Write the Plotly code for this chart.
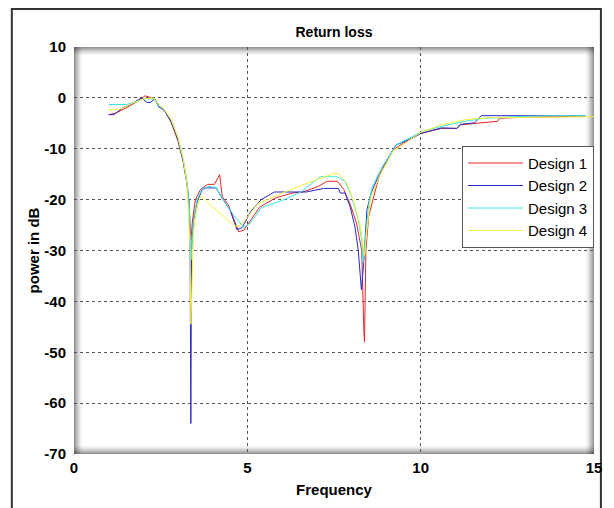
import plotly.graph_objects as go

# ---------------- data ----------------
x_d1 = [1.0, 1.2, 1.5, 1.8, 2.05, 2.2, 2.35, 2.45, 2.6, 2.8, 3.0, 3.15, 3.25, 3.32, 3.37, 3.42,
        3.5, 3.65, 3.85, 4.05, 4.2, 4.28, 4.45, 4.6, 4.75, 4.9, 5.1, 5.35, 5.8, 6.3, 6.6, 7.05,
        7.3, 7.6, 7.78, 7.95, 8.15, 8.3, 8.36, 8.38, 8.42, 8.5, 8.8, 9.2, 9.6, 10.0, 10.6,
        11.05, 11.15, 11.7, 12.22, 12.27, 12.65, 13.0, 14.75]
y_d1 = [-3.3, -3.0, -2.0, -0.8, 0.4, 0.1, -0.4, -1.7, -2.4, -4.8, -8.5, -12.5, -16.5, -20.5, -28.0, -24.0,
        -20.0, -18.0, -17.0, -17.0, -15.1, -19.5, -21.0, -23.5, -26.3, -26.0, -24.0, -21.5, -19.7, -18.7, -18.5, -17.4,
        -16.4, -16.4, -18.0, -20.6, -24.6, -30.0, -45.5, -48.0, -30.0, -23.3, -15.4, -10.2, -8.5, -7.0, -6.0,
        -6.0, -5.3, -4.9, -4.6, -4.0, -3.9, -3.8, -3.6]

x_d2 = [1.0, 1.15, 1.4, 1.7, 1.95, 2.1, 2.2, 2.33, 2.45, 2.6, 2.8, 3.0, 3.15, 3.25, 3.32, 3.35,
        3.37, 3.39, 3.45, 3.55, 3.7, 3.8, 4.1, 4.3, 4.5, 4.7, 4.85, 5.1, 5.4, 5.78, 6.7, 7.2,
        7.63, 7.68, 7.82, 7.96, 8.1, 8.2, 8.29, 8.35, 8.45, 8.57, 8.86, 9.29, 9.38, 9.67, 10.0,
        10.6, 11.04, 11.14, 11.56, 11.75, 14.75]
y_d2 = [-3.3, -3.3, -2.0, -1.0, 0.0, -0.9, -0.9, -0.2, -1.8, -2.4, -4.6, -8.2, -12.5, -16.5, -20.6, -31.0,
        -64.0, -30.0, -24.0, -20.5, -18.0, -17.7, -17.7, -20.0, -22.0, -25.9, -25.5, -22.3, -20.0, -18.5, -18.5, -17.8,
        -17.8, -18.7, -18.7, -21.3, -25.2, -30.0, -37.7, -33.0, -22.0, -18.7, -14.1, -9.2, -9.0, -8.2, -7.0,
        -5.9, -6.0, -5.2, -4.9, -3.5, -3.5]

x_d3 = [1.0, 1.5, 1.8, 2.0, 2.3, 2.45, 2.6, 2.8, 3.0, 3.15, 3.25, 3.32, 3.38, 3.45, 3.55, 3.7,
        3.9, 4.1, 4.3, 4.6, 4.9, 5.1, 5.4, 6.07, 6.54, 7.11, 7.58, 7.82, 8.0, 8.2, 8.3, 8.34,
        8.4, 8.5, 8.6, 8.9, 9.3, 10.05, 10.6, 11.28, 11.75, 12.7, 13.8, 14.75]
y_d3 = [-1.3, -1.3, -0.8, -0.2, -0.2, -1.6, -2.3, -4.3, -7.8, -12.0, -16.0, -20.5, -31.8, -24.0, -20.0, -17.8,
        -17.4, -17.6, -20.0, -23.0, -25.5, -24.5, -21.6, -20.0, -18.5, -15.5, -15.5, -16.4, -19.3, -23.9, -28.0, -32.4,
        -28.0, -21.0, -17.5, -13.5, -9.2, -6.6, -5.6, -4.6, -4.1, -3.7, -3.5, -3.5]

x_d4 = [1.0, 1.3, 1.7, 2.0, 2.3, 2.45, 2.6, 2.8, 3.0, 3.15, 3.25, 3.3, 3.35, 3.37, 3.45, 3.55,
        3.65, 4.0, 4.35, 4.64, 4.79, 5.0, 5.3, 6.26, 7.02, 7.49, 7.63, 7.87, 8.06, 8.24, 8.32, 8.38,
        8.45, 8.55, 8.8, 9.2, 10.0, 10.6, 11.28, 12.0, 15.0]
y_d4 = [-2.3, -2.3, -1.0, -0.2, 0.0, -1.3, -2.2, -4.2, -7.8, -12.0, -16.5, -22.0, -30.0, -44.5, -26.0, -21.5,
        -19.3, -21.5, -23.5, -25.2, -25.1, -23.5, -20.8, -18.0, -16.0, -14.9, -14.9, -16.7, -20.3, -24.6, -28.0, -31.1,
        -26.0, -20.0, -15.5, -10.5, -6.8, -5.3, -4.3, -3.9, -3.7]

series_names = ["Design 1", "Design 2", "Design 3", "Design 4"]
x_ticks = [0, 5, 10, 15]
y_ticks = [10, 0, -10, -20, -30, -40, -50, -60, -70]

# ---------------- styling ----------------
colors = ["#e3262b", "#2828c8", "#3de6e6", "#f2f23a"]
FONT = "Arial, Liberation Sans, sans-serif"

fig = go.Figure()
for name, xs, ys, c in zip(series_names, [x_d1, x_d2, x_d3, x_d4], [y_d1, y_d2, y_d3, y_d4], colors):
    fig.add_trace(go.Scatter(x=xs, y=ys, mode="lines", name=name,
                             line=dict(color=c, width=1)))

W, H = 614, 508
ML, MR, MT, MB = 74, 13, 47, 53
pw = W - ML - MR
ph = H - MT - MB

shapes = []
# shadow vignette along plot edges
n = 9
for i in range(n):
    op = 0.42 * (1 - i / n) ** 1.6
    fx = 1.0 / pw
    fy = 1.0 / ph
    common = dict(type="rect", xref="x domain", yref="y domain", line=dict(width=0),
                  fillcolor="black", opacity=op, layer="below")
    shapes.append(dict(x0=i * fx, x1=(i + 1) * fx, y0=0, y1=1, **common))
    shapes.append(dict(x0=1 - (i + 1) * fx, x1=1 - i * fx, y0=0, y1=1, **common))
    shapes.append(dict(x0=0, x1=1, y0=i * fy, y1=(i + 1) * fy, **common))
    shapes.append(dict(x0=0, x1=1, y0=1 - (i + 1) * fy, y1=1 - i * fy, **common))

# outer figure frame
shapes.append(dict(type="rect", xref="paper", yref="paper",
                   x0=(11 - ML) / pw, x1=(608 - ML) / pw,
                   y0=(H - MB - 520) / ph, y1=(H - MB - 9) / ph,
                   line=dict(color="#333333", width=2), fillcolor="rgba(0,0,0,0)", layer="below"))

fig.update_layout(
    width=W, height=H,
    margin=dict(l=ML, r=MR, t=MT, b=MB, pad=0),
    paper_bgcolor="white", plot_bgcolor="white",
    font=dict(family=FONT, color="black"),
    title=dict(text="<b>Return loss</b>", x=0.5, xref="paper", xanchor="center",
               y=1 - 32 / H, yref="container", yanchor="middle",
               font=dict(size=14, family=FONT)),
    shapes=shapes,
    showlegend=True,
    legend=dict(x=1.0, y=(H - MB - 146) / ph, xanchor="right", yanchor="top",
                bgcolor="white", bordercolor="#555555", borderwidth=1,
                font=dict(size=15, family=FONT), tracegroupgap=0,
                itemwidth=55),
)

fig.update_xaxes(range=[0, 15], tickvals=x_ticks, ticktext=[f"<b>{v}</b>" for v in x_ticks],
                 showgrid=True, gridcolor="#555555", griddash="dot", gridwidth=1,
                 zeroline=False, showline=False,
                 ticks="", ticklabelstandoff=3, tickfont=dict(size=15, family=FONT),
                 title=dict(text="<b>Frequency</b>", font=dict(size=15, family=FONT), standoff=9))
fig.update_yaxes(range=[-70, 10], tickvals=y_ticks, ticktext=[f"<b>{v}</b>" for v in y_ticks],
                 showgrid=True, gridcolor="#555555", griddash="dot", gridwidth=1,
                 zeroline=False, showline=False,
                 ticks="", ticklabelstandoff=7, tickfont=dict(size=15, family=FONT),
                 title=dict(text="<b>power in dB</b>", font=dict(size=15, family=FONT), standoff=1))

fig.write_html("out.html")
